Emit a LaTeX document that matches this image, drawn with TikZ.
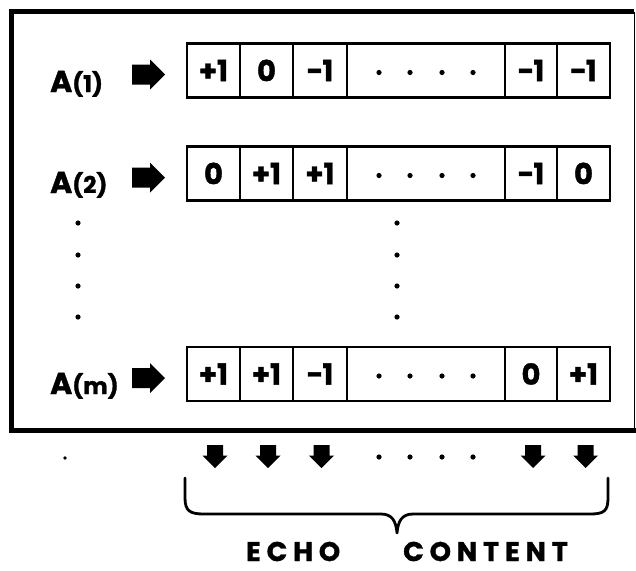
\documentclass[tikz,border=0pt]{standalone}
\usepackage{fontspec}
\setmainfont{Poppins}[BoldFeatures={FakeBold=1.4}]
\newfontfamily\echofont{Poppins}[LetterSpace=22, BoldFeatures={FakeBold=1.4}]

% cell rows: name, centre y, six entries (the fourth cell holds dots)
\newcommand\cellrow[7]{%
  \node[cell, minimum width=53pt] (#1c1) at (213.5,#2) {#3};
  \node[cell, minimum width=53pt] (#1c2) at (266.5,#2) {#4};
  \node[cell, minimum width=54pt] (#1c3) at (320,#2) {#5};
  \node[cell, minimum width=158pt] (#1c4) at (426,#2) {};
  \node[cell, minimum width=52pt] (#1c5) at (531,#2) {#6};
  \node[cell, minimum width=53pt] (#1c6) at (583.5,#2) {#7};
  \foreach \dx in {379,410,442,473} \fill (\dx,#2+2) circle (2.6pt);
}

\begin{document}
\begin{tikzpicture}[x=1pt,y=-1pt,
  cell/.style={draw, line width=2.4pt, minimum height=54pt, inner sep=0pt,
    font=\fontsize{29}{29}\selectfont\bfseries},
  lbl/.style={anchor=base west, inner sep=0pt},
  rarrow/.pic={\fill (-16.5,-10) -- (1.5,-10) -- (1.5,-15) -- (16.5,0)
      -- (1.5,15) -- (1.5,10) -- (-16.5,10) -- cycle;},
  darrow/.pic={\fill (-8,-11.5) -- (8,-11.5) -- (8,-1) -- (12.5,-1)
      -- (0,11.5) -- (-12.5,-1) -- (-8,-1) -- cycle;},
  vdot/.style={fill=black}
]
\useasboundingbox (0,0) rectangle (636,570);

% outer frame
\draw[line width=5pt] (636,430) -- (11.5,430) -- (11.5,11.5) -- (634,11.5);
\draw[line width=1.5pt] (634.5,11.5) -- (634.5,430);

% registers
\cellrow{ra}{70.5}{+1}{0}{−1}{−1}{−1}
\cellrow{rb}{173.5}{0}{+1}{+1}{−1}{0}
\cellrow{rm}{374}{+1}{+1}{−1}{0}{+1}

% row labels and pointers
\def\big{\fontsize{30}{30}\selectfont\bfseries}
\def\sml{\fontsize{23}{23}\selectfont\bfseries}
\node[lbl] (la) at (50,92) {\big A\sml(1)};
\node[lbl] (lb) at (50,193) {\big A\sml(2)};
\node[lbl] (lm) at (50,394) {\big A\sml(m)};
\pic (pa) at (148.5,74.5) {rarrow};
\pic (pb) at (148.5,177.5) {rarrow};
\pic (pm) at (148.5,378) {rarrow};

% vertical ellipses
\foreach \yy in {223,255,286,317} {
  \fill[vdot] (78,\yy) circle (2.6pt);
  \fill[vdot] (397,\yy) circle (2.6pt);
}

% outputs
\foreach \xx in {215,268,321.5,533,585.5} \pic at (\xx,456.5) {darrow};
\foreach \xx in {379,410,442,473} \fill (\xx,457) circle (2.6pt);
\fill (65,458) circle (1.8pt);

% brace
\draw[line width=2.8pt, line cap=round, line join=round]
  (185,478) -- (185,498) .. controls (185,511) and (190,514) .. (204,514)
  -- (381,514) .. controls (392,514) and (396,521) .. (397,533)
  .. controls (398,521) and (402,514) .. (413,514)
  -- (590,514) .. controls (604,514) and (608,511) .. (608,498) -- (608,478);

\node[anchor=base west, inner sep=0pt, font=\echofont\fontsize{27}{27}\selectfont\bfseries]
  (echo) at (246,561) {ECHO};
\node[anchor=base east, inner sep=0pt, font=\echofont\fontsize{27}{27}\selectfont\bfseries]
  (content) at (568,561) {CONTENT};
\end{tikzpicture}
\end{document}
